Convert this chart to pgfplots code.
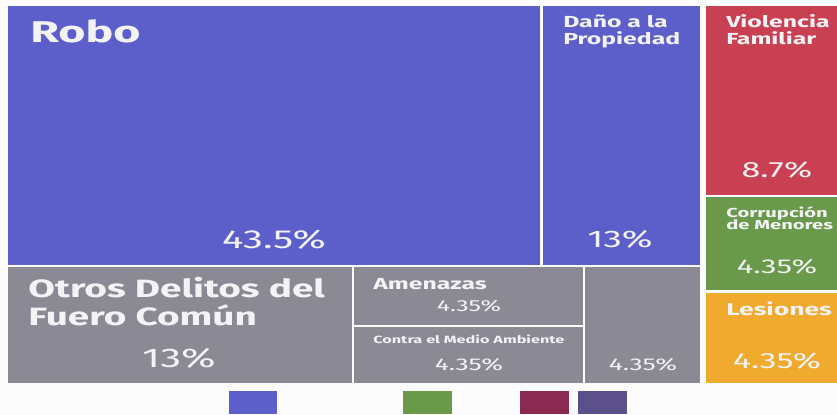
\documentclass[border=0pt]{standalone}
\usepackage{fontspec}
\setmainfont{Fira Sans}
\usepackage{pgfplots}
\pgfplotsset{compat=1.18}

\definecolor{cBlue}{HTML}{5C5FC9}
\definecolor{cRed}{HTML}{C94052}
\definecolor{cGreen}{HTML}{6A994C}
\definecolor{cOrange}{HTML}{F0AA2E}
\definecolor{cGray}{HTML}{8A8994}
\definecolor{cMaroon}{HTML}{8B2A50}
\definecolor{cPurple}{HTML}{5C508A}
\definecolor{cText}{HTML}{F3F3F6}
\definecolor{cBack}{HTML}{FCFCFD}

\tikzset{lbl/.style={text=cText, inner sep=0pt, xscale=1.55}}
\newcommand{\fs}[1]{\fontsize{#1bp}{#1bp}\selectfont}

\begin{document}
\begin{tikzpicture}
\begin{axis}[
  scale only axis, width=837bp, height=415bp,
  xmin=0, xmax=837, ymin=0, ymax=415, y dir=reverse,
  hide axis, clip=false,
]
  % page background (keeps the full 837x415 frame)
  \addplot[fill=cBack, draw=none] coordinates {(0,0)(837,0)(837,415)(0,415)} -- cycle;
  % tiles, pixel boxes (x0,y0)-(x1,y1)
  \addplot[fill=cBlue, draw=none] coordinates {(8,6)(540,6)(540,265)(8,265)} -- cycle;    % Robo 43.5
  \addplot[fill=cBlue, draw=none] coordinates {(543,6)(700,6)(700,265)(543,265)} -- cycle; % Dano 13
  \addplot[fill=cRed, draw=none] coordinates {(706,6)(837,6)(837,195)(706,195)} -- cycle;  % Violencia 8.7
  \addplot[fill=cGreen, draw=none] coordinates {(706,197)(837,197)(837,290)(706,290)} -- cycle; % Corrupcion 4.35
  \addplot[fill=cOrange, draw=none] coordinates {(706,293)(837,293)(837,383)(706,383)} -- cycle; % Lesiones 4.35
  \addplot[fill=cGray, draw=none] coordinates {(8,267)(352,267)(352,383)(8,383)} -- cycle;   % Otros 13
  \addplot[fill=cGray, draw=none] coordinates {(354,267)(583,267)(583,325)(354,325)} -- cycle; % Amenazas 4.35
  \addplot[fill=cGray, draw=none] coordinates {(354,327)(583,327)(583,383)(354,383)} -- cycle; % Medio Ambiente 4.35
  \addplot[fill=cGray, draw=none] coordinates {(585,267)(700,267)(700,383)(585,383)} -- cycle; % sin nombre 4.35
  % legend swatches
  \addplot[fill=cBlue, draw=none] coordinates {(229,391)(277,391)(277,414)(229,414)} -- cycle;
  \addplot[fill=cGreen, draw=none] coordinates {(403,391)(452,391)(452,414)(403,414)} -- cycle;
  \addplot[fill=cMaroon, draw=none] coordinates {(520,391)(569,391)(569,414)(520,414)} -- cycle;
  \addplot[fill=cPurple, draw=none] coordinates {(578,391)(627,391)(627,414)(578,414)} -- cycle;

  % labels
  \node[lbl, anchor=base west] at (axis cs:30,43) {\fs{30}\bfseries Robo};
  \node[lbl, anchor=base] at (axis cs:274,248) {\fs{26}43.5\%};

  \node[lbl, anchor=base west] at (axis cs:563,28) {\fs{16}\bfseries Daño a la};
  \node[lbl, anchor=base west] at (axis cs:563,45) {\fs{16}\bfseries Propiedad};
  \node[lbl, anchor=base] at (axis cs:620,247) {\fs{24}13\%};

  \node[lbl, anchor=base west] at (axis cs:726,28) {\fs{16}\bfseries Violencia};
  \node[lbl, anchor=base west] at (axis cs:726,45) {\fs{16}\bfseries Familiar};
  \node[lbl, anchor=base] at (axis cs:777,177) {\fs{22}8.7\%};

  \node[lbl, anchor=base west] at (axis cs:726,217) {\fs{13}\bfseries Corrupción};
  \node[lbl, anchor=base west] at (axis cs:726,229) {\fs{13}\bfseries de Menores};
  \node[lbl, anchor=base] at (axis cs:777,273) {\fs{20}4.35\%};

  \node[lbl, anchor=base west] at (axis cs:726,315) {\fs{17}\bfseries Lesiones};
  \node[lbl, anchor=base] at (axis cs:777,368) {\fs{22}4.35\%};

  \node[lbl, anchor=base west] at (axis cs:28,297) {\fs{25}\bfseries Otros Delitos del};
  \node[lbl, anchor=base west] at (axis cs:28,325) {\fs{25}\bfseries Fuero Común};
  \node[lbl, anchor=base] at (axis cs:179,367) {\fs{27}13\%};

  \node[lbl, anchor=base west] at (axis cs:373,289) {\fs{16}\bfseries Amenazas};
  \node[lbl, anchor=base] at (axis cs:469,311) {\fs{16}4.35\%};

  \node[lbl, anchor=base west] at (axis cs:373,343) {\fs{10.5}\bfseries Contra el Medio Ambiente};
  \node[lbl, anchor=base] at (axis cs:469,370) {\fs{17}4.35\%};

  \node[lbl, anchor=base] at (axis cs:643,370) {\fs{17}4.35\%};
\end{axis}
\end{tikzpicture}
\end{document}
